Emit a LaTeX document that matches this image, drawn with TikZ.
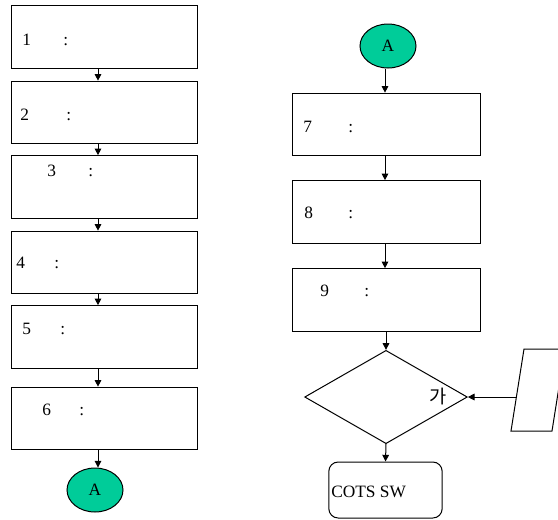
\documentclass[tikz,border=0pt]{standalone}
\usepackage{fontspec}
\setmainfont{Liberation Serif}
\newfontfamily\krfont{Noto Sans CJK KR}
\usetikzlibrary{arrows.meta, shapes.geometric, calc}
\definecolor{xgreen}{HTML}{00CC99}
\tikzset{
  stepbox/.style = {draw, line width=0.75pt, minimum width=#1, minimum height=47pt, inner sep=0pt},
  connector/.style = {draw, line width=0.75pt, ellipse, fill=xgreen, minimum width=42pt, minimum height=33pt, inner sep=0pt},
  decision/.style = {draw, line width=0.75pt, diamond, aspect=1.75, minimum width=122pt, minimum height=70pt, inner sep=0pt},
  terminal/.style = {draw, line width=0.75pt, rounded corners=7pt, minimum width=85pt, minimum height=42pt, inner sep=0pt},
  flow/.style = {line width=0.75pt, -{Triangle[length=5pt, width=5pt]}},
  boxtext/.style = {anchor=west, inner sep=0pt},
}
\newcommand{\numlabel}[2]{\makebox[#2][l]{#1}:}

\begin{document}
\begin{tikzpicture}[x=0.75pt, y=-0.75pt, font=\fontsize{13pt}{15pt}\selectfont]
  \useasboundingbox (0,0) rectangle (558,519);
  \clip (0,0) rectangle (558,519);
  \coordinate (lcol) at (98,0);
  \coordinate (rcol) at (385,0);
  % left column
  \node[stepbox=140pt] (b1) at (104.5,37) {};
  \node[stepbox=140pt] (b2) at (104.5,112.5) {};
  \node[stepbox=140pt] (b3) at (104.5,187) {};
  \node[stepbox=140pt] (b4) at (104.5,262.5) {};
  \node[stepbox=140pt] (b5) at (104.5,337) {};
  \node[stepbox=140pt] (b6) at (104.5,418.5) {};
  \node[connector] (a1) at (95,490) {A};
  \node[boxtext] (t1) at (22,40) {\numlabel{1}{30.75pt}};
  \node[boxtext] (t2) at (20,115) {\numlabel{2}{34.5pt}};
  \node[boxtext] (t3) at (47,171) {\numlabel{3}{30.75pt}};
  \node[boxtext] (t4) at (16,263) {\numlabel{4}{28.5pt}};
  \node[boxtext] (t5) at (22,329) {\numlabel{5}{28.5pt}};
  \node[boxtext] (t6) at (42,410) {\numlabel{6}{27.75pt}};
  \foreach \from/\to in {b1/b2, b2/b3, b3/b4, b4/b5, b5/b6, b6/a1}
    \draw[flow] (\from.south -| lcol) -- (\to.north -| lcol);
  % right column
  \node[connector] (a2) at (388,46) {A};
  \node[stepbox=141pt] (b7) at (386,124.5) {};
  \node[stepbox=141pt] (b8) at (386,212) {};
  \node[stepbox=141pt] (b9) at (386,300) {};
  \node[decision] (dia) at (386,397) {};
  \node[terminal] (cots) at (385.5,490) {};
  \node[boxtext] (t7) at (303,127) {\numlabel{7}{33.75pt}};
  \node[boxtext] (t8) at (304,213) {\numlabel{8}{33pt}};
  \node[boxtext] (t9) at (320,291) {\numlabel{9}{33pt}};
  \node[boxtext] (tga) at (429,396) {\fontsize{14pt}{16pt}\krfont 가};
  \node[boxtext] (tcots) at (331,492) {COTS SW};
  \foreach \from/\to in {a2/b7, b7/b8, b8/b9}
    \draw[flow] (\from.south -| rcol) -- (\to.north -| rcol);
  \draw[flow] (b9.south) -- (dia.north);
  \draw[flow] (dia.south) -- (cots.north);
  % input parallelogram, cut by the page edge
  \coordinate (p1) at (511,431);
  \coordinate (p2) at (524,349);
  \coordinate (p3) at (565,349);
  \coordinate (p4) at (552,431);
  \coordinate (pin) at (516.4,397);
  \draw[line width=0.75pt] (p1) -- (p2) -- (p3) -- (p4) -- cycle;
  \draw[flow] (pin) -- (dia.east);
\end{tikzpicture}
\end{document}
